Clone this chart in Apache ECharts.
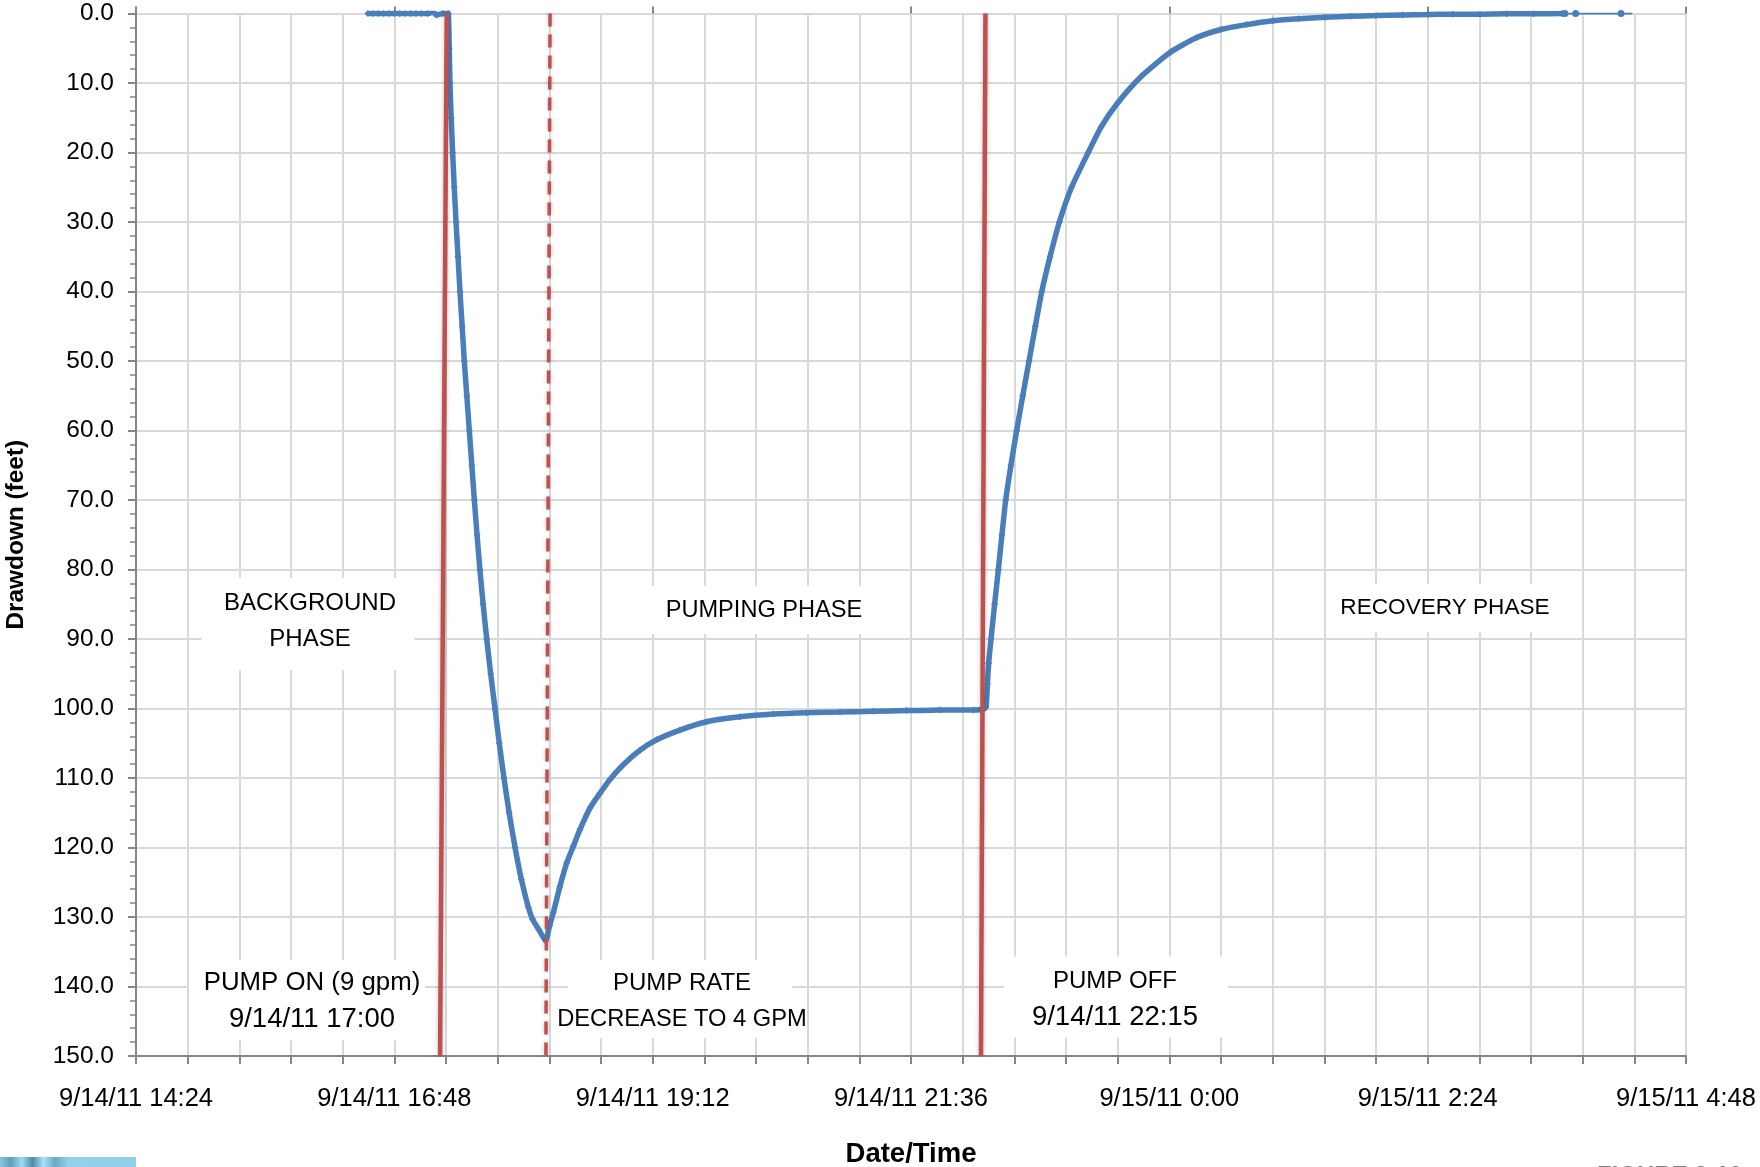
<!DOCTYPE html>
<html>
<head>
<meta charset="utf-8">
<script src="https://cdn.jsdelivr.net/npm/echarts@6/dist/echarts.min.js"></script>
<style>
  html, body { margin: 0; padding: 0; background: #ffffff; }
  #chart { width: 1760px; height: 1167px; }
</style>
</head>
<body>
<div id="chart"></div>
<script>
// Time is in minutes after 9/14/11 00:00, drawdown in feet below static level.
const axisStartMin = 864;    // 9/14/11 14:24
const axisEndMin = 1728;     // 9/15/11 4:48
const axisStepMin = 144;     // 2 h 24 min between labelled ticks
const depthTicks = [0, 150, 10];

// Transducer record (continuous logging)
const logTime = [
  993.3, 996, 999, 1002, 1005, 1008, 1011, 1014, 1017, 1020, 1023, 1026.5,
  1029.5, 1031.5, 1035, 1037.5,
  1038.1, 1038.6, 1039.0, 1039.7, 1040.5, 1041.4, 1042.4, 1043.5, 1044.6,
  1045.8, 1047.0, 1048.4, 1049.8, 1051.2, 1052.6, 1054.1, 1055.7, 1057.5,
  1059.5, 1061.7, 1064.1, 1066.5, 1069.1, 1072.0, 1075.3, 1078.8, 1082.7,
  1085.0, 1088.5, 1092.3,
  1094.5, 1096.6, 1100.3, 1104.1, 1107.8, 1111.5, 1117.1, 1122.6, 1128.2,
  1135.6, 1144.9, 1154.2, 1167.2, 1182.1, 1200.7, 1219.2, 1237.9, 1256.4,
  1275.0, 1293.6, 1312.2, 1330.7, 1336.3,
  1337.8, 1338.6, 1339.3, 1340.6, 1342.6, 1344.7, 1346.7, 1348.8, 1351.7,
  1354.9, 1358.3, 1361.8, 1365.3, 1368.9, 1373.5, 1378.7, 1385.5, 1394.8,
  1402.0, 1411.4, 1425.0, 1440.4, 1455.0, 1468.8, 1483.0, 1497.8, 1512.0,
  1526.8, 1541.0, 1555.2, 1570.0, 1584.2, 1598.0, 1613.2, 1628.0, 1643.0,
  1658.9, 1660.5
];
const logDrawdown = [
  0.0, 0.0, 0.0, 0.0, 0.0, 0.0, 0.0, 0.0, 0.0, 0.0, 0.0, 0.0,
  -0.2, 0.2, 0.0, -0.2,
  0.0, 5, 10, 15, 20, 25, 30, 35, 40,
  45, 50, 55, 60, 65, 70, 75, 80, 85,
  90, 95, 100, 105, 110, 115, 120, 124.6, 128.6,
  130.3, 131.8, 133.4,
  131.3, 129.4, 125.6, 122.2, 119.8, 117.4, 114.3, 112.2, 110.2,
  108.1, 106.0, 104.5, 103.1, 101.9, 101.2, 100.8, 100.6, 100.5,
  100.4, 100.3, 100.2, 100.2, 100.1,
  99.8, 96.5, 93.5, 90, 85, 80, 75, 70, 65,
  60, 55, 50, 45, 40, 35, 30, 25, 20,
  16.3, 12.8, 8.9, 5.6, 3.5, 2.3, 1.6, 1.05, 0.75,
  0.55, 0.4, 0.3, 0.2, 0.15, 0.1, 0.1, 0.05, 0.05,
  0.0, 0.0
];

// Last few manual readings after the logger record
const tailTime = [1660.5, 1666.5, 1691.8, 1698.1];
const tailDrawdown = [0.0, 0.0, 0.0, 0.0];

// Event lines (top and bottom of each line, as plotted)
const pumpOnTime = [1037.2, 1033.5];
const rateChangeTime = [1094.8, 1092.5];
const pumpOffTime = [1337.5, 1335.0];
const eventDepth = [0, 150];

const zip = (xs, ys) => xs.map((x, i) => [x, ys[i]]);

function timeLabel(m) {
  const dayOffset = Math.floor(m / 1440);
  const r = Math.round(m - dayOffset * 1440);
  const h = Math.floor(r / 60);
  const mm = r % 60;
  return '9/' + (14 + dayOffset) + '/11 ' + h + ':' + String(mm).padStart(2, '0');
}

const FONT = '"Liberation Sans", Arial, sans-serif';
const GRID_COLOR = '#d9d9d9';
const AXIS_COLOR = '#868686';
const BLUE = '#4a7ebb';
const RED = '#c0504d';

const chart = echarts.init(document.getElementById('chart'), null, { renderer: 'canvas' });

const redLine = (name, times, width, type) => ({
  name: name,
  type: 'line',
  data: zip(times, eventDepth),
  symbol: 'none',
  silent: true,
  z: 4,
  lineStyle: {
    color: RED, width: width, type: type,
    shadowColor: 'rgba(0,0,0,0.25)', shadowBlur: 4
  }
});

// Text boxes over the grid: box centre/size, then each line with its own size
const notes = [
  { bx: 308, by: 624, w: 213, h: 92, cx: 310, cy: 621,
    lines: [['BACKGROUND', 24], ['PHASE', 24]] },
  { bx: 764, by: 610, w: 232, h: 48, cx: 764, cy: 610,
    lines: [['PUMPING PHASE', 23.6]] },
  { bx: 1445, by: 608, w: 232, h: 48, cx: 1445, cy: 608,
    lines: [['RECOVERY PHASE', 22.6]] },
  { bx: 307, by: 1000, w: 236, h: 80, cx: 312, cy: 1001,
    lines: [['PUMP ON (9 gpm)', 25.8], ['9/14/11 17:00', 27.5]] },
  { bx: 680, by: 999, w: 224, h: 78, cx: 682, cy: 1001,
    lines: [['PUMP RATE', 24], ['DECREASE TO 4 GPM', 23.7]] },
  { bx: 1116, by: 997, w: 224, h: 81, cx: 1115, cy: 999,
    lines: [['PUMP OFF', 24], ['9/14/11 22:15', 27.5]] }
];
const NOTE_LINE_GAP = 36;

const graphics = [];
notes.forEach(n => {
  graphics.push({
    type: 'rect', z: 5, silent: true,
    shape: { x: n.bx - n.w / 2, y: n.by - n.h / 2, width: n.w, height: n.h },
    style: { fill: '#ffffff' }
  });
  const first = n.cy - (n.lines.length - 1) * NOTE_LINE_GAP / 2;
  n.lines.forEach((ln, i) => {
    graphics.push({
      type: 'text', z: 6, silent: true,
      x: n.cx, y: first + i * NOTE_LINE_GAP,
      style: {
        text: ln[0],
        font: ln[1] + 'px ' + FONT,
        fill: '#000000',
        align: 'center',
        verticalAlign: 'middle'
      }
    });
  });
});

// Page furniture along the bottom edge
graphics.push({
  type: 'rect', silent: true,
  shape: { x: 0, y: 1157, width: 136, height: 10 },
  style: {
    fill: new echarts.graphic.LinearGradient(0, 0, 1, 0, [
      { offset: 0.00, color: '#86c6e0' },
      { offset: 0.08, color: '#5d9ebd' },
      { offset: 0.16, color: '#9fdcf2' },
      { offset: 0.24, color: '#4f8cab' },
      { offset: 0.32, color: '#a9e2f5' },
      { offset: 0.40, color: '#6aa9c6' },
      { offset: 0.50, color: '#92d1ea' },
      { offset: 1.00, color: '#8fcfe8' }
    ])
  }
});
graphics.push({
  type: 'text', silent: true,
  x: 1597, y: 1164,
  style: {
    text: 'FIGURE 3-10',
    font: 'bold 24px ' + FONT,
    fill: '#7f7f7f',
    align: 'left',
    verticalAlign: 'top'
  }
});

chart.setOption({
  animation: false,
  backgroundColor: '#ffffff',
  grid: {
    left: 136, right: 74, top: 13.5, bottom: 111,
    containLabel: false, outerBoundsMode: 'none'
  },
  xAxis: [
    {
      type: 'value',
      min: axisStartMin, max: axisEndMin, interval: axisStepMin,
      name: 'Date/Time',
      nameLocation: 'middle',
      nameGap: 84,
      nameTextStyle: { fontFamily: FONT, fontSize: 27.5, fontWeight: 'bold', color: '#000' },
      axisLine: { show: true, onZero: false, lineStyle: { color: AXIS_COLOR, width: 2 } },
      axisTick: { show: true, length: 8, lineStyle: { color: AXIS_COLOR, width: 2 } },
      minorTick: { show: true, splitNumber: 5, length: 8, lineStyle: { color: AXIS_COLOR, width: 2 } },
      splitLine: { show: true, lineStyle: { color: GRID_COLOR, width: 2 } },
      minorSplitLine: { show: true, lineStyle: { color: GRID_COLOR, width: 2 } },
      axisLabel: {
        margin: 30, fontFamily: FONT, fontSize: 25.5, color: '#000',
        formatter: v => timeLabel(v)
      }
    },
    {
      // inner half of the crossing major tick marks
      type: 'value', position: 'bottom',
      min: axisStartMin, max: axisEndMin, interval: axisStepMin,
      axisLine: { show: false },
      axisTick: { show: true, inside: true, length: 7, lineStyle: { color: AXIS_COLOR, width: 2 } },
      axisLabel: { show: false },
      splitLine: { show: false }
    }
  ],
  yAxis: {
    type: 'value',
    inverse: true,
    min: depthTicks[0], max: depthTicks[1], interval: depthTicks[2],
    name: 'Drawdown (feet)',
    nameLocation: 'middle',
    nameGap: 108,
    nameTextStyle: { fontFamily: FONT, fontSize: 24.4, fontWeight: 'bold', color: '#000' },
    axisLine: { show: true, onZero: false, lineStyle: { color: AXIS_COLOR, width: 2 } },
    axisTick: { show: true, length: 8, lineStyle: { color: AXIS_COLOR, width: 2 } },
    minorTick: { show: true, splitNumber: 5, length: 6, lineStyle: { color: AXIS_COLOR, width: 1.5 } },
    splitLine: { show: true, lineStyle: { color: GRID_COLOR, width: 2 } },
    axisLabel: {
      margin: 22, fontFamily: FONT, fontSize: 24.5, color: '#000',
      formatter: v => v.toFixed(1)
    }
  },
  series: [
    {
      name: 'Drawdown',
      type: 'line',
      data: zip(logTime, logDrawdown),
      smooth: 0.2,
      symbol: 'diamond',
      symbolSize: 7,
      showSymbol: true,
      showAllSymbol: true,
      silent: true,
      z: 3,
      itemStyle: { color: BLUE },
      lineStyle: { color: BLUE, width: 5.5 }
    },
    {
      name: 'Drawdown (tail)',
      type: 'line',
      data: zip(tailTime, tailDrawdown),
      symbol: 'circle',
      // the closing reading carries no marker
      symbolSize: (val, params) => (params.dataIndex === tailTime.length - 1 ? 0 : 7),
      showSymbol: true,
      silent: true,
      z: 3,
      itemStyle: { color: BLUE },
      lineStyle: { color: BLUE, width: 2 }
    },
    redLine('Pump on', pumpOnTime, 4.5, 'solid'),
    redLine('Rate change', rateChangeTime, 3.5, [13, 8]),
    redLine('Pump off', pumpOffTime, 4.5, 'solid')
  ],
  graphic: graphics
});
</script>
</body>
</html>
